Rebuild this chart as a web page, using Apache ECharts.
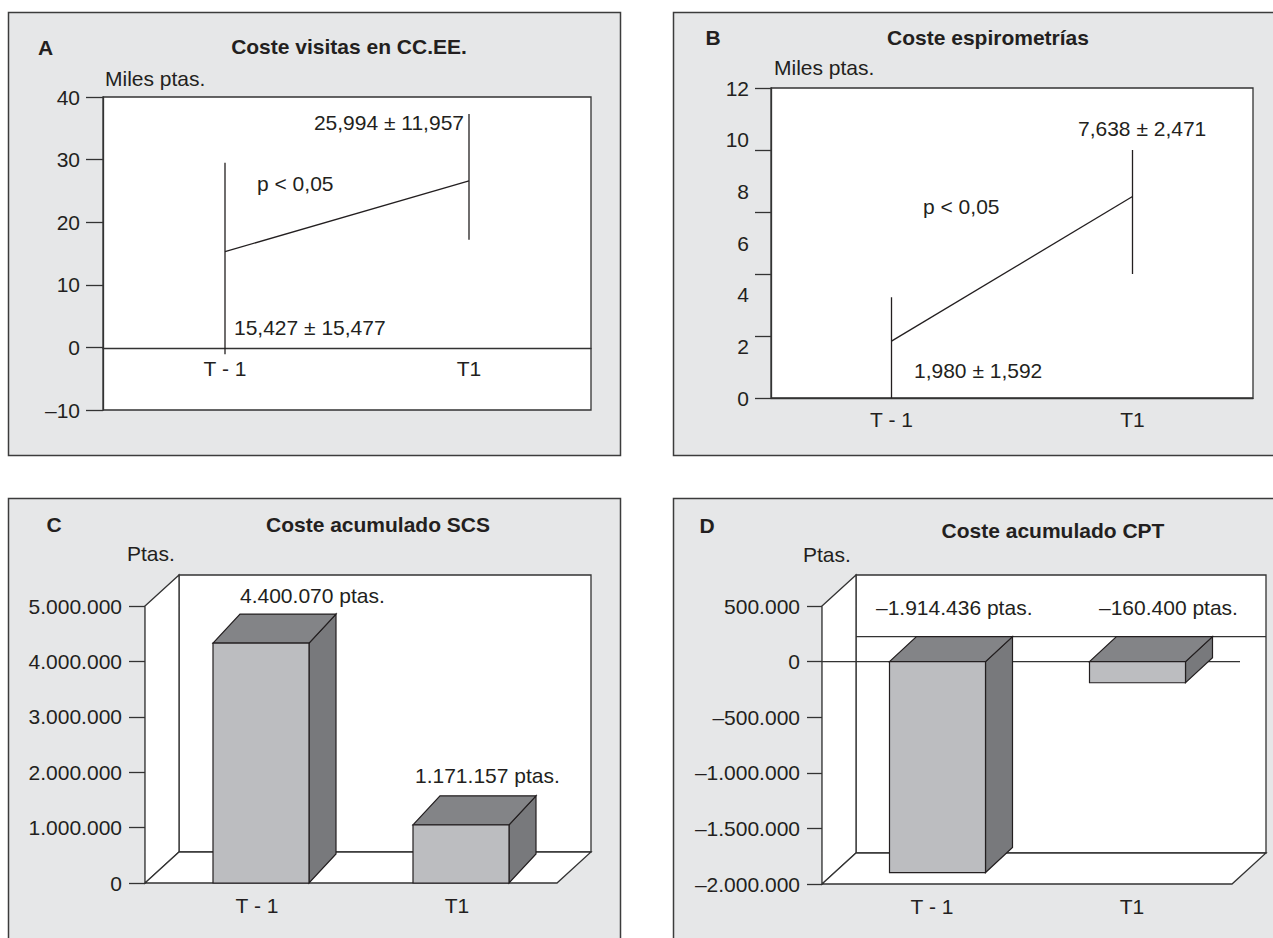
<!DOCTYPE html>
<html>
<head>
<meta charset="utf-8">
<title>Costes</title>
<script src="https://cdn.jsdelivr.net/npm/echarts@6/dist/echarts.min.js"></script>
<style>
  html, body { margin: 0; padding: 0; background: #fff; }
  #main { width: 1273px; height: 938px; }
</style>
</head>
<body>
<div id="main"></div>
<script>
// datos
var categorias = ['T - 1', 'T1'];

// A: coste visitas en CC.EE. (miles ptas.)
var visitasMedia = [15.3, 26.6];
var visitasMin = [-1.1, 17.2];
var visitasMax = [29.5, 37.3];

// B: coste espirometrías (miles ptas.)
var espiroMedia = [2.2, 7.8];
var espiroMin = [0, 4.8];
var espiroMax = [3.9, 9.6];

// C y D: coste acumulado (ptas.)
var costeSCS = [4330000, 1050000];
var costeCPT = [-1897000, -190000];

var titulos = ['Coste visitas en CC.EE.', 'Coste espirometrías', 'Coste acumulado SCS', 'Coste acumulado CPT'];
var letras = ['A', 'B', 'C', 'D'];
var unidades = ['Miles ptas.', 'Miles ptas.', 'Ptas.', 'Ptas.'];
var notasA = ['25,994 ± 11,957', 'p < 0,05', '15,427 ± 15,477'];
var notasB = ['7,638 ± 2,471', 'p < 0,05', '1,980 ± 1,592'];
var notasC = ['4.400.070 ptas.', '1.171.157 ptas.'];
var notasD = ['–1.914.436 ptas.', '–160.400 ptas.'];

var FUENTE = '"Liberation Sans", Arial, sans-serif';
var TINTA = '#231f20';
var LINEA = '#333';

function puntos(v) {
  var s = String(Math.abs(v)).replace(/\B(?=(\d{3})+(?!\d))/g, '.');
  return (v < 0 ? '–' : '') + s;
}

function guion(v) {
  return v < 0 ? '–' + Math.abs(v) : String(v);
}

function texto(t, x, y, align, bold) {
  return {
    type: 'text', z: 50, silent: true,
    style: {
      text: t, x: x, y: y,
      align: align, textAlign: align,
      verticalAlign: 'middle', textVerticalAlign: 'middle',
      font: (bold ? 'bold ' : '') + '21px ' + FUENTE,
      fill: TINTA
    }
  };
}

function panel(x, y, w, h) {
  return {
    type: 'rect', z: -10, silent: true,
    shape: { x: x, y: y, width: w, height: h },
    style: { fill: '#e6e7e8', stroke: '#3c3c3c', lineWidth: 1.5 }
  };
}

function barraError(params, api) {
  var a = api.coord([api.value(0), api.value(1)]);
  var b = api.coord([api.value(0), api.value(2)]);
  return {
    type: 'line',
    shape: { x1: a[0], y1: a[1], x2: b[0], y2: b[1] },
    style: { stroke: TINTA, lineWidth: 1.3 }
  };
}

function barras3d(dx, dy, shift) {
  return function (params, api) {
    var i = api.value(0), v = api.value(1);
    var p0 = api.coord([i, 0]), p1 = api.coord([i, v]);
    var w = api.size([1, 0])[0] * 0.48;
    var l = p0[0] + shift - w / 2, r = l + w;
    var top = Math.min(p0[1], p1[1]), bot = Math.max(p0[1], p1[1]);
    var st = function (c) { return { fill: c, stroke: TINTA, lineWidth: 1.2 }; };
    return {
      type: 'group',
      children: [
        { type: 'polygon', shape: { points: [[r, top], [r + dx, top + dy], [r + dx, bot + dy], [r, bot]] }, style: st('#78797c') },
        { type: 'polygon', shape: { points: [[l, top], [r, top], [r + dx, top + dy], [l + dx, top + dy]] }, style: st('#838487') },
        { type: 'rect', shape: { x: l, y: top, width: w, height: bot - top }, style: st('#bcbdc0') }
      ]
    };
  };
}

function paredes(offset, dx, dy, lineaCero) {
  return function (params, api) {
    var cs = params.coordSys;
    var x0 = cs.x - offset, x1 = cs.x + cs.width, y0 = cs.y, y1 = cs.y + cs.height;
    var st = { fill: '#fff', stroke: LINEA, lineWidth: 1.3 };
    var hijos = [
      { type: 'polygon', shape: { points: [[x0 + dx, y0 + dy], [x1 + dx, y0 + dy], [x1 + dx, y1 + dy], [x0 + dx, y1 + dy]] }, style: st },
      { type: 'polygon', shape: { points: [[x0, y0], [x0 + dx, y0 + dy], [x0 + dx, y1 + dy], [x0, y1]] }, style: st },
      { type: 'polygon', shape: { points: [[x0, y1], [x1, y1], [x1 + dx, y1 + dy], [x0 + dx, y1 + dy]] }, style: st }
    ];
    if (lineaCero) {
      var yc = api.coord([0, 0])[1];
      hijos.push({ type: 'line', shape: { x1: x0 + dx, y1: yc + lineaCero, x2: x1 + dx, y2: yc + lineaCero }, style: { stroke: LINEA, lineWidth: 1.3 } });
      hijos.push({ type: 'line', shape: { x1: x0, y1: yc, x2: x1 + 8, y2: yc }, style: { stroke: LINEA, lineWidth: 1.3 } });
    }
    return { type: 'group', children: hijos };
  };
}

var etiqueta = { color: TINTA, fontSize: 21, fontFamily: FUENTE };
var trazo = { color: LINEA, width: 1.3 };

var myChart = echarts.init(document.getElementById('main'), null, { renderer: 'svg' });
var option;

option = {
  animation: false,
  textStyle: { fontFamily: FUENTE },
  grid: [
    { left: 103, top: 97, width: 488, height: 313, show: true, backgroundColor: '#fff', borderColor: LINEA, borderWidth: 1.3 },
    { left: 771, top: 88, width: 482, height: 310, show: true, backgroundColor: '#fff', borderColor: LINEA, borderWidth: 1.3 },
    { left: 157, top: 606, width: 400, height: 277 },
    { left: 832, top: 606, width: 400, height: 278 }
  ],
  xAxis: [
    // eje en el cero: se sube 62 px desde el borde inferior del grid
    { gridIndex: 0, type: 'category', data: categorias, offset: -62, axisLine: { onZero: false, lineStyle: trazo }, axisTick: { show: false }, axisLabel: Object.assign({ margin: 10 }, etiqueta) },
    { gridIndex: 1, type: 'category', data: categorias, axisLine: { lineStyle: trazo }, axisTick: { show: false }, axisLabel: Object.assign({ margin: 11 }, etiqueta) },
    { gridIndex: 2, type: 'category', data: categorias, axisLine: { show: false }, axisTick: { show: false }, axisLabel: Object.assign({ margin: 12 }, etiqueta) },
    { gridIndex: 3, type: 'category', data: categorias, axisLine: { show: false }, axisTick: { show: false }, axisLabel: Object.assign({ margin: 12 }, etiqueta) }
  ],
  yAxis: [
    { gridIndex: 0, type: 'value', min: -10, max: 40, interval: 10, axisLine: { show: true, lineStyle: trazo }, axisTick: { show: true, length: 17, lineStyle: trazo }, splitLine: { show: false }, axisLabel: Object.assign({ margin: 23, formatter: guion }, etiqueta) },
    { gridIndex: 1, type: 'value', position: 'left', min: 0, max: 12, interval: 2, axisLine: { show: false }, axisTick: { show: false }, splitLine: { show: false }, axisLabel: Object.assign({ margin: 22 }, etiqueta) },
    { gridIndex: 1, type: 'value', position: 'left', min: 0, max: 5, interval: 1, axisLine: { show: true, lineStyle: trazo }, axisTick: { show: true, length: 16, lineStyle: trazo }, splitLine: { show: false }, axisLabel: { show: false } },
    { gridIndex: 2, type: 'value', min: 0, max: 5000000, interval: 1000000, offset: 12, axisLine: { show: true, lineStyle: trazo }, axisTick: { show: true, length: 16, lineStyle: trazo }, splitLine: { show: false }, axisLabel: Object.assign({ margin: 23, formatter: puntos }, etiqueta) },
    { gridIndex: 3, type: 'value', min: -2000000, max: 500000, interval: 500000, offset: 10, axisLine: { show: true, lineStyle: trazo }, axisTick: { show: true, length: 15, lineStyle: trazo }, splitLine: { show: false }, axisLabel: Object.assign({ margin: 22, formatter: puntos }, etiqueta) }
  ],
  series: [
    {
      type: 'custom', xAxisIndex: 0, yAxisIndex: 0, silent: true, z: 3,
      renderItem: barraError,
      data: visitasMin.map(function (v, i) { return [i, v, visitasMax[i]]; })
    },
    {
      type: 'line', xAxisIndex: 0, yAxisIndex: 0, silent: true, z: 4, symbol: 'none',
      lineStyle: { color: TINTA, width: 1.3 },
      data: visitasMedia
    },
    {
      type: 'custom', xAxisIndex: 1, yAxisIndex: 1, silent: true, z: 3,
      renderItem: barraError,
      data: espiroMin.map(function (v, i) { return [i, v, espiroMax[i]]; })
    },
    {
      type: 'line', xAxisIndex: 1, yAxisIndex: 1, silent: true, z: 4, symbol: 'none',
      lineStyle: { color: TINTA, width: 1.3 },
      data: espiroMedia
    },
    {
      type: 'custom', xAxisIndex: 2, yAxisIndex: 3, silent: true, z: 1,
      renderItem: paredes(12, 34, -31, 0),
      data: [[0, 0]]
    },
    {
      type: 'custom', xAxisIndex: 2, yAxisIndex: 3, silent: true, z: 2,
      renderItem: barras3d(27, -29, 4),
      encode: { x: 0, y: 1 },
      data: costeSCS.map(function (v, i) { return [i, v]; })
    },
    {
      type: 'custom', xAxisIndex: 3, yAxisIndex: 4, silent: true, z: 1,
      renderItem: paredes(10, 34, -31, -25),
      data: [[0, 0]]
    },
    {
      type: 'custom', xAxisIndex: 3, yAxisIndex: 4, silent: true, z: 2,
      renderItem: barras3d(27, -25, 5.5),
      encode: { x: 0, y: 1 },
      data: costeCPT.map(function (v, i) { return [i, v]; })
    }
  ],
  graphic: {
    elements: [
      panel(8.5, 12.5, 612, 443),
      panel(673.5, 12.5, 640, 443),
      panel(8.5, 498.5, 612, 480),
      panel(673.5, 498.5, 640, 480),

      texto(letras[0], 45.5, 47, 'center', true),
      texto(titulos[0], 349, 46, 'center', true),
      texto(unidades[0], 105, 78, 'left'),
      texto(notasA[0], 464, 122, 'right'),
      texto(notasA[1], 257, 183, 'left'),
      texto(notasA[2], 234, 327, 'left'),

      texto(letras[1], 713, 37, 'center', true),
      texto(titulos[1], 988, 37, 'center', true),
      texto(unidades[1], 774, 67, 'left'),
      texto(notasB[0], 1078, 128, 'left'),
      texto(notasB[1], 923, 206, 'left'),
      texto(notasB[2], 914, 370, 'left'),

      texto(letras[2], 54, 524, 'center', true),
      texto(titulos[2], 378, 524, 'center', true),
      texto(unidades[2], 127, 553, 'left'),
      texto(notasC[0], 240, 595, 'left'),
      texto(notasC[1], 415, 775, 'left'),

      texto(letras[3], 707, 525, 'center', true),
      texto(titulos[3], 1053, 530, 'center', true),
      texto(unidades[3], 803, 554, 'left'),
      texto(notasD[0], 876, 607, 'left'),
      texto(notasD[1], 1099, 607, 'left')
    ]
  }
};

option && myChart.setOption(option);
</script>
</body>
</html>
